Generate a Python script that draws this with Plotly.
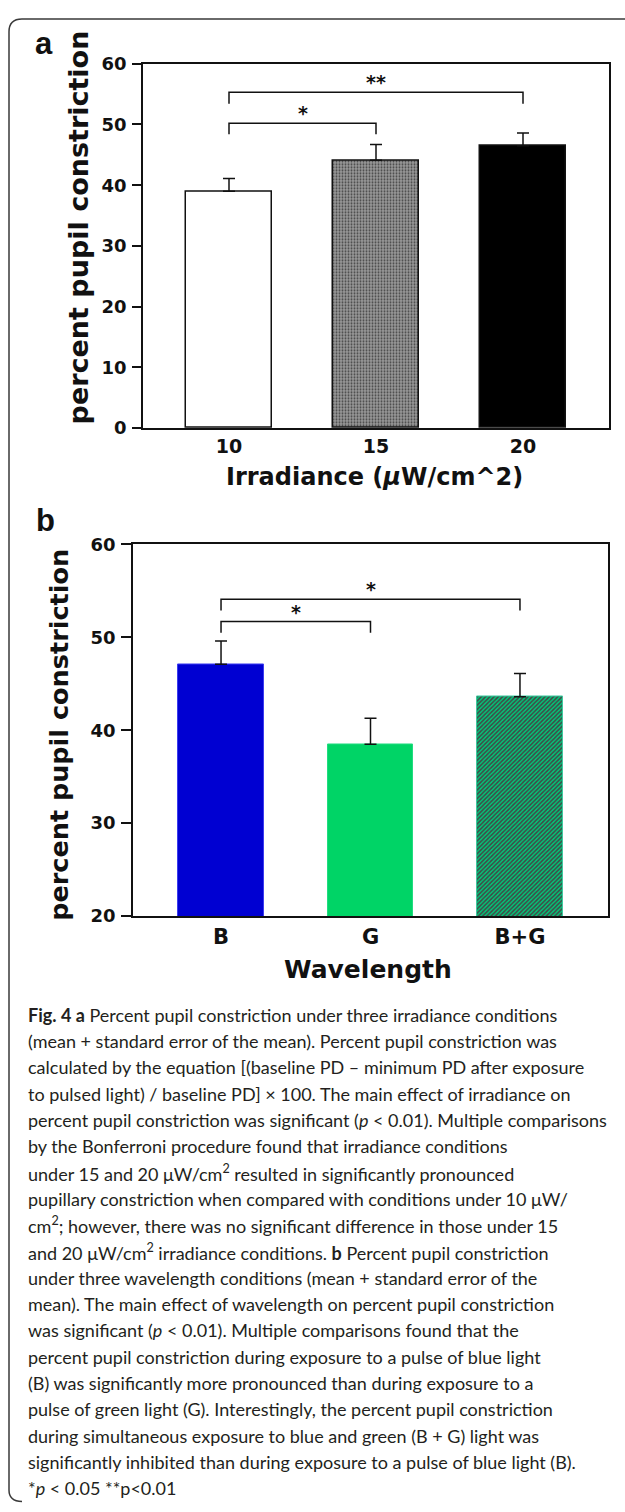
import plotly.graph_objects as go

# ---------------- data ----------------
irr_labels = ["10", "15", "20"]
irr_mean = [39.0, 44.1, 46.5]
irr_sem = [2.1, 2.6, 2.1]

wl_labels = ["B", "G", "B+G"]
wl_mean = [47.1, 38.5, 43.6]
wl_sem = [2.5, 2.8, 2.5]

# significance brackets: (left, right, leg bottom, bar level, label)
irr_sig = [("10", "15", 48.4, 50.2, "*"), ("10", "20", 53.4, 55.3, "**")]
wl_sig = [("B", "G", 50.5, 51.7, "*"), ("B", "B+G", 52.9, 54.1, "*")]

irr_ticks = [0, 10, 20, 30, 40, 50, 60]
wl_ticks = [20, 30, 40, 50, 60]

caption_lines = [
    "<b>Fig. 4 a</b> Percent pupil constriction under three irradiance conditions",
    "(mean + standard error of the mean). Percent pupil constriction was",
    "calculated by the equation [(baseline PD – minimum PD after exposure",
    "to pulsed light) / baseline PD] × 100. The main effect of irradiance on",
    "percent pupil constriction was significant (<i>p</i> &lt; 0.01). Multiple comparisons",
    "by the Bonferroni procedure found that irradiance conditions",
    "under 15 and 20 μW/cm<sup>2</sup> resulted in significantly pronounced",
    "pupillary constriction when compared with conditions under 10 μW/",
    "cm<sup>2</sup>; however, there was no significant difference in those under 15",
    "and 20 μW/cm<sup>2</sup> irradiance conditions. <b>b</b> Percent pupil constriction",
    "under three wavelength conditions (mean + standard error of the",
    "mean). The main effect of wavelength on percent pupil constriction",
    "was significant (<i>p</i> &lt; 0.01). Multiple comparisons found that the",
    "percent pupil constriction during exposure to a pulse of blue light",
    "(B) was significantly more pronounced than during exposure to a",
    "pulse of green light (G). Interestingly, the percent pupil constriction",
    "during simultaneous exposure to blue and green (B + G) light was",
    "significantly inhibited than during exposure to a pulse of blue light (B).",
    "*<i>p</i> &lt; 0.05 **p&lt;0.01",
]

W, H = 625, 1512
BOLD = dict(family="DejaVu Sans", weight="bold", color="#111")


def px(v, total):
    return v / total


def ydom(top, bottom):
    return [1 - bottom / H, 1 - top / H]


fig = go.Figure()

# ---------------- panel a ----------------
fig.add_trace(go.Bar(
    x=irr_labels, y=irr_mean, width=0.585,
    marker=dict(
        color=["white", "#9a9a9a", "black"],
        line=dict(color="#111", width=1.5),
        pattern=dict(shape=["", ".", ""], size=3, solidity=0.35,
                     fgcolor="#474747", fgopacity=1, fillmode="overlay"),
    ),
    error_y=dict(type="data", array=irr_sem, arrayminus=[0, 0, 0], symmetric=False,
                 color="#111", thickness=1.5, width=6),
    xaxis="x", yaxis="y", showlegend=False, hoverinfo="skip",
))

# ---------------- panel b ----------------
fig.add_trace(go.Bar(
    x=wl_labels, y=wl_mean, width=0.575,
    marker=dict(
        color=["#0000d2", "#00d466", "#00c87a"],
        line=dict(color=["#3c3cf0", "#20dc80", "#40c8a0"], width=1),
        pattern=dict(shape=["", "", "/"], size=3, solidity=0.5,
                     fgcolor="#1c55c4", fgopacity=1, fillmode="overlay"),
    ),
    error_y=dict(type="data", array=wl_sem, arrayminus=[0, 0, 0], symmetric=False,
                 color="#111", thickness=1.5, width=6),
    xaxis="x2", yaxis="y2", showlegend=False, hoverinfo="skip",
))

annotations = []
shapes = []


def add_brackets(sig, xa, ya, cats):
    for left, right, low, level, lab in sig:
        fig.add_trace(go.Scatter(
            x=[left, left, right, right], y=[low, level, level, low],
            mode="lines", line=dict(color="#111", width=1.5),
            xaxis=xa, yaxis=ya, showlegend=False, hoverinfo="skip",
        ))
        mid = (cats.index(left) + cats.index(right)) / 2
        annotations.append(dict(
            x=mid, y=level, xref=xa, yref=ya, text=lab, showarrow=False,
            yanchor="bottom", yshift=-3,
            font=dict(family="DejaVu Sans", size=19, weight="bold", color="#111"),
        ))


add_brackets(irr_sig, "x", "y", irr_labels)
add_brackets(wl_sig, "x2", "y2", wl_labels)

axis_common = dict(showgrid=False, zeroline=False, showline=True, linecolor="#111",
                   linewidth=1.5, mirror=True)

fig.update_layout(
    width=W, height=H,
    margin=dict(l=0, r=0, t=0, b=0),
    paper_bgcolor="white", plot_bgcolor="white",
    bargap=0,
    xaxis=dict(domain=[px(143, W), px(609, W)], anchor="y", type="category",
               categoryorder="array", categoryarray=irr_labels,
               range=[-0.585, 2.585], ticks="", ticklabelstandoff=0,
               tickfont=dict(size=19, **BOLD), **axis_common),
    yaxis=dict(domain=ydom(53.5, 423), anchor="x", range=[0, 60],
               tickvals=irr_ticks, ticks="outside", ticklen=9, tickwidth=1.5,
               tickcolor="#111", ticklabelstandoff=2,
               tickfont=dict(size=18, **BOLD), **axis_common),
    xaxis2=dict(domain=[px(133, W), px(608, W)], anchor="y2", type="category",
                categoryorder="array", categoryarray=wl_labels,
                range=[-0.589, 2.589], ticks="", ticklabelstandoff=1,
                tickfont=dict(size=21, **BOLD), **axis_common),
    yaxis2=dict(domain=ydom(541, 917.7), anchor="x2", range=[20, 60],
                tickvals=wl_ticks, ticks="outside", ticklen=10, tickwidth=1.5,
                tickcolor="#111", ticklabelstandoff=2,
                tickfont=dict(size=18, **BOLD), **axis_common),
)

# end ticks below the x axes
for xr, yr, base in [("x domain", "y", 0), ("x2 domain", "y2", 20)]:
    for xv in (0, 1):
        shapes.append(dict(type="line", xref=xr, yref=yr, x0=xv, x1=xv,
                           ysizemode="pixel", yanchor=base, y0=0, y1=-10,
                           line=dict(color="#111", width=1.5)))

# outer rounded frame
shapes.append(dict(type="path", xref="paper", yref="paper",
                   path=("M 1.02 %f L %f %f Q %f %f %f %f L %f %f Q %f %f %f %f"
                         % (1 - 8 / H, 22 / W, 1 - 8 / H, 9 / W, 1 - 8 / H, 9 / W, 1 - 21 / H,
                            9 / W, 1 - 1500 / H, 9 / W, 1 - 1511 / H, 22 / W, 1 - 1511.5 / H)),
                   line=dict(color="#3a3a3a", width=1.5)))

# axis titles and panel labels
annotations += [
    dict(x=px(78, W), y=1 - 219.5 / H, xref="paper", yref="paper",
         text="percent pupil constriction", textangle=-90, showarrow=False,
         xanchor="center", yanchor="middle", font=dict(size=27, **BOLD)),
    dict(x=px(374, W), y=1 - 473 / H, xref="paper", yref="paper",
         text="Irradiance (<i>μ</i>W/cm^2)", showarrow=False,
         xanchor="center", yanchor="middle", font=dict(size=24, **BOLD)),
    dict(x=px(59, W), y=1 - 734 / H, xref="paper", yref="paper",
         text="percent pupil constriction", textangle=-90, showarrow=False,
         xanchor="center", yanchor="middle", font=dict(size=25.5, **BOLD)),
    dict(x=px(368, W), y=1 - 972 / H, xref="paper", yref="paper",
         text="Wavelength", showarrow=False,
         xanchor="center", yanchor="middle", font=dict(size=25, **BOLD)),
    dict(x=px(44, W), y=1 - 33 / H, xref="paper", yref="paper", text="a",
         showarrow=False, xanchor="center", yanchor="middle",
         font=dict(family="Liberation Sans", size=31, weight="bold", color="#111")),
    dict(x=px(45, W), y=1 - 517 / H, xref="paper", yref="paper", text="b",
         showarrow=False, xanchor="center", yanchor="middle",
         font=dict(family="Liberation Sans", size=31, weight="bold", color="#111")),
]

for i, line in enumerate(caption_lines):
    yc = 1018 + i * 26.67
    annotations.append(dict(
        x=px(26, W), y=1 - yc / H, xref="paper", yref="paper", text=line,
        showarrow=False, xanchor="left", yanchor="middle", align="left",
        font=dict(family="Lato", size=18, color="#231f20"),
    ))

fig.update_layout(annotations=annotations, shapes=shapes)

fig.write_html("out.html")
